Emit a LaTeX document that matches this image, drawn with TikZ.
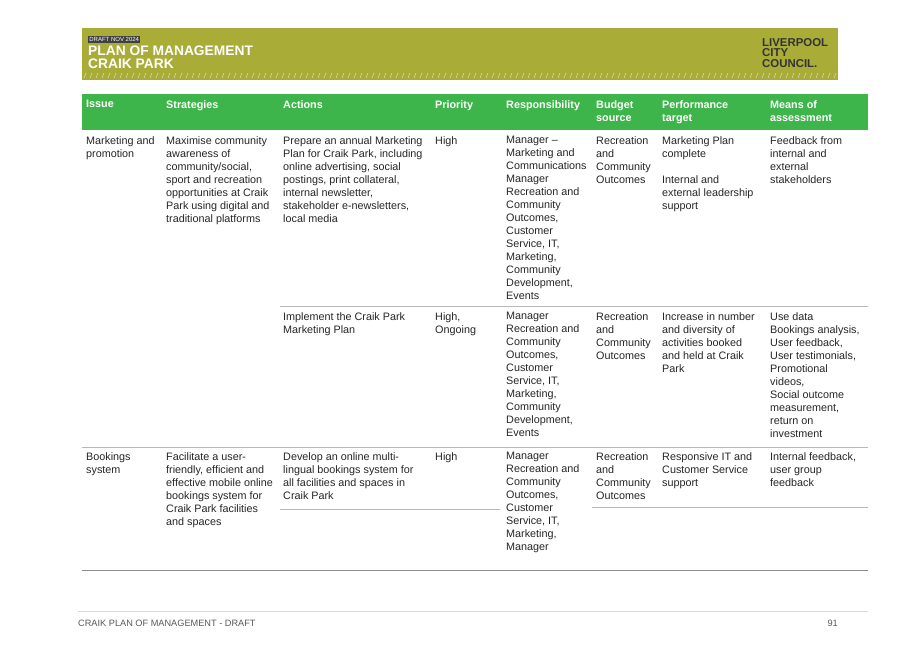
\documentclass[tikz,border=0pt]{standalone}
\usepackage{fontspec}
\setmainfont{Liberation Sans}
\definecolor{olive}{HTML}{A9AD38}
\definecolor{hgreen}{HTML}{3DB54A}
\definecolor{rule}{HTML}{B8B8B8}
\begin{document}
\begin{tikzpicture}[x=1pt,y=-1pt,
  cell/.style={anchor=north west,inner sep=0pt,align=left,font=\fontsize{10.8}{13}\selectfont,text=black!85},
  hcell/.style={cell,text=white,font=\fontsize{10.8}{13}\selectfont\bfseries},
  sep/.style={draw=rule,line width=0.6pt}]
\useasboundingbox (0,0) rectangle (917,648);
\fill[white] (0,0) rectangle (917,648);
% banner
\fill[olive] (82,28) rectangle (838,80);
\foreach \i in {0,...,125} {\draw[white!70!olive,line width=0.4pt] (84+\i*6,78) -- (86+\i*6,73);}
\node[fill=black!75,text=white,inner sep=1.2pt,anchor=north west,font=\fontsize{6}{6}\selectfont] (draft) at (88,36) {DRAFT NOV 2024};
\node[anchor=north west,inner sep=0pt,text=white,align=left,font=\fontsize{13.8}{12.5}\selectfont\bfseries] (title) at (88,46) {PLAN OF MANAGEMENT\\CRAIK PARK};
\node[anchor=north west,inner sep=0pt,text=black!80,align=left,font=\fontsize{11.4}{10.5}\selectfont\bfseries] (logo) at (762,38) {LIVERPOOL\\CITY\\COUNCIL.};
% header row
\fill[hgreen] (82,94) rectangle (868,130);
\node[hcell] (h1) at (86,100) {Issue};
\node[hcell] (h2) at (166,100) {Strategies};
\node[hcell] (h3) at (283,100) {Actions};
\node[hcell] (h4) at (435,100) {Priority};
\node[hcell] (h5) at (506,100) {Responsibility};
\node[hcell] (h6) at (596,100) {Budget\\source};
\node[hcell] (h7) at (662,100) {Performance\\target};
\node[hcell] (h8) at (770,100) {Means of\\assessment};
% row 1
\node[cell] (a1) at (86,136) {Marketing and\\promotion};
\node[cell] (a2) at (166,136) {Maximise community\\awareness of\\community/social,\\sport and recreation\\opportunities at Craik\\Park using digital and\\traditional platforms};
\node[cell] (a3) at (283,136) {Prepare an annual Marketing\\Plan for Craik Park, including\\online advertising, social\\postings, print collateral,\\internal newsletter,\\stakeholder e-newsletters,\\local media};
\node[cell] (a4) at (435,136) {High};
\node[cell] (a5) at (506,136) {Manager –\\Marketing and\\Communications\\Manager\\Recreation and\\Community\\Outcomes,\\Customer\\Service, IT,\\Marketing,\\Community\\Development,\\Events};
\node[cell] (a6) at (596,136) {Recreation\\and\\Community\\Outcomes};
\node[cell] (a7) at (662,136) {Marketing Plan\\complete\\[13pt]Internal and\\external leadership\\support};
\node[cell] (a8) at (770,136) {Feedback from\\internal and\\external\\stakeholders};
\draw[sep] (280,306) -- (868,306);
% row 2
\node[cell] (b3) at (283,312) {Implement the Craik Park\\Marketing Plan};
\node[cell] (b4) at (435,312) {High,\\Ongoing};
\node[cell] (b5) at (506,312) {Manager\\Recreation and\\Community\\Outcomes,\\Customer\\Service, IT,\\Marketing,\\Community\\Development,\\Events};
\node[cell] (b6) at (596,312) {Recreation\\and\\Community\\Outcomes};
\node[cell] (b7) at (662,312) {Increase in number\\and diversity of\\activities booked\\and held at Craik\\Park};
\node[cell] (b8) at (770,312) {Use data\\Bookings analysis,\\User feedback,\\User testimonials,\\Promotional\\videos,\\Social outcome\\measurement,\\return on\\investment};
\draw[sep] (82,447) -- (868,447);
% row 3
\node[cell] (c1) at (86,452) {Bookings\\system};
\node[cell] (c2) at (166,452) {Facilitate a user-\\friendly, efficient and\\effective mobile online\\bookings system for\\Craik Park facilities\\and spaces};
\node[cell] (c3) at (283,452) {Develop an online multi-\\lingual bookings system for\\all facilities and spaces in\\Craik Park};
\node[cell] (c4) at (435,452) {High};
\node[cell] (c5) at (506,452) {Manager\\Recreation and\\Community\\Outcomes,\\Customer\\Service, IT,\\Marketing,\\Manager};
\node[cell] (c6) at (596,452) {Recreation\\and\\Community\\Outcomes};
\node[cell] (c7) at (662,452) {Responsive IT and\\Customer Service\\support};
\node[cell] (c8) at (770,452) {Internal feedback,\\user group\\feedback};
\draw[sep] (280,509) -- (500,509);
\draw[sep] (592,507) -- (868,507);
\draw[draw=black!45,line width=0.7pt] (82,570) -- (868,570);
% footer
\draw[draw=black!15,line width=0.5pt] (78,611) -- (868,611);
\node[cell,font=\fontsize{9.2}{9}\selectfont,text=black!65] (f1) at (78,620) {CRAIK PLAN OF MANAGEMENT - DRAFT};
\node[anchor=north east,inner sep=0pt,font=\fontsize{9.2}{9}\selectfont,text=black!65] (f2) at (838,620) {91};
\end{tikzpicture}
\end{document}
